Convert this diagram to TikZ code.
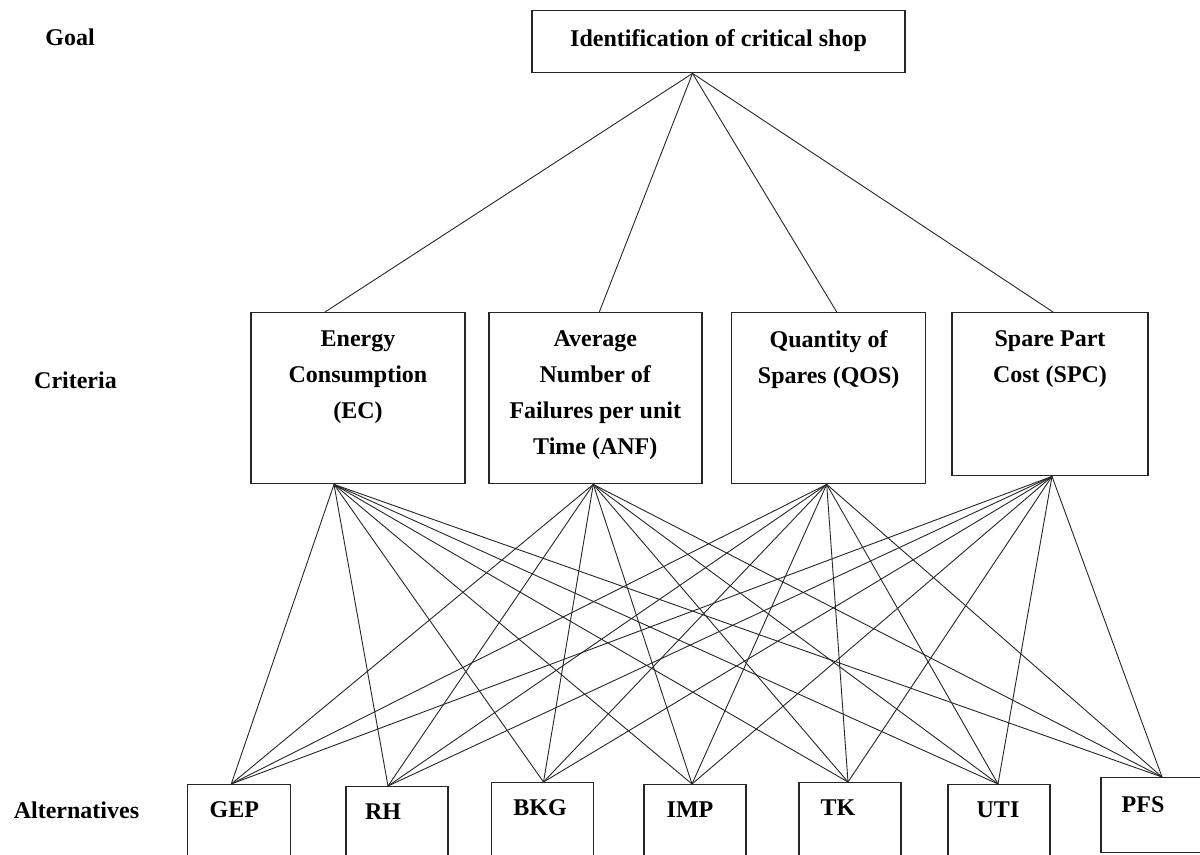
\documentclass[tikz,border=0pt]{standalone}
\usepackage{fontspec}
\setmainfont{Liberation Serif}
\usepackage{tikz}
\usetikzlibrary{positioning}

\begin{document}
\begin{tikzpicture}
  [
    x=0.5pt, y=-0.5pt,
    Txt/.style={font=\bfseries\fontsize{12}{18}\selectfont},
    Box/.style={rectangle, draw=black!85, line width=0.7pt, inner sep=0pt, anchor=north},
    Crit/.style={Box, minimum height=85.5pt},
    Alt/.style={Box, minimum width=51pt, minimum height=37.5pt},
    Inside/.style={Txt, anchor=north, align=center, inner sep=0pt, yshift=-9pt},
    AltIn/.style={Txt, anchor=north, inner sep=0pt, yshift=-8.5pt},
    Link/.style={draw=black!85, line width=0.45pt}
  ]
  \useasboundingbox (0,0) rectangle (1200,855);
  \clip (0,0) rectangle (1200,855);
  % Levels
  \node[Txt] (lgoal) at (70, 37) {Goal};
  \node[Txt] (lcrit) at (75.5, 380) {Criteria};
  \node[Txt] (lalt) at (76.5, 810) {Alternatives};
  % Goal
  \node[Box, minimum width=186.5pt, minimum height=31pt,
    label={[Inside, yshift=-0.5pt]north:Identification of critical shop}] (goal) at (718.5, 10) {};
  % Criteria
  \node[Crit, minimum width=107pt,
    label={[Inside]north:Energy\\Consumption\\(EC)}] (ec) at (358, 312) {};
  \node[Crit, minimum width=106.5pt,
    label={[Inside]north:Average\\Number of\\Failures per unit\\Time (ANF)}] (anf) at (595.3, 312) {};
  \node[Crit, minimum width=97pt,
    label={[Inside]north:Quantity of\\Spares (QOS)}] (qos) at (828.7, 312) {};
  \node[Crit, minimum width=98pt, minimum height=81.5pt,
    label={[Inside]north:Spare Part\\Cost (SPC)}] (spc) at (1050, 312) {};
  % Alternatives
  \node[Alt, minimum width=51.5pt, label={[AltIn, xshift=-2.5pt]north:GEP}] (gep) at (239.25, 784) {};
  \node[Alt, label={[AltIn, xshift=-7pt]north:RH}] (rh) at (397, 786) {};
  \node[Alt, label={[AltIn, xshift=-1.25pt]north:BKG}] (bkg) at (542.5, 782) {};
  \node[Alt, label={[AltIn, xshift=-2.5pt]north:IMP}] (imp) at (695, 784) {};
  \node[Alt, label={[AltIn, xshift=-6pt]north:TK}] (tk) at (850, 782) {};
  \node[Alt, label={[AltIn, xshift=-0.5pt]north:UTI}] (uti) at (999, 784) {};
  \node[Alt, label={[AltIn, xshift=-4.5pt, yshift=-1pt]north:PFS}] (pfs) at (1152, 777) {};
  % Attach points
  \coordinate (goal-out) at ([xshift=-13pt]goal.south);
  \coordinate (ec-in) at ([xshift=-16.5pt]ec.north);
  \coordinate (anf-in) at ([xshift=2pt]anf.north);
  \coordinate (qos-in) at ([xshift=4pt]qos.north);
  \coordinate (spc-in) at ([xshift=1.5pt]spc.north);
  \coordinate (ec-out) at ([xshift=-12pt]ec.south);
  \coordinate (anf-out) at ([xshift=-1pt]anf.south);
  \coordinate (qos-out) at ([xshift=-1pt]qos.south);
  \coordinate (spc-out) at ([xshift=1pt]spc.south);
  \coordinate (gep-in) at ([xshift=-4pt]gep.north);
  \coordinate (rh-in) at ([xshift=-4.5pt]rh.north);
  \coordinate (bkg-in) at ([xshift=0.5pt]bkg.north);
  \coordinate (imp-in) at ([xshift=-1.5pt]imp.north);
  \coordinate (tk-in) at ([xshift=-1pt]tk.north);
  \coordinate (uti-in) at ([xshift=-0.5pt]uti.north);
  \coordinate (pfs-in) at ([xshift=5pt]pfs.north);
  % Lines
  \path [Link] (goal-out) -- (ec-in);
  \path [Link] (goal-out) -- (anf-in);
  \path [Link] (goal-out) -- (qos-in);
  \path [Link] (goal-out) -- (spc-in);
  \path [Link] (ec-out) -- (gep-in);
  \path [Link] (ec-out) -- (rh-in);
  \path [Link] (ec-out) -- (bkg-in);
  \path [Link] (ec-out) -- (imp-in);
  \path [Link] (ec-out) -- (tk-in);
  \path [Link] (ec-out) -- (uti-in);
  \path [Link] (ec-out) -- (pfs-in);
  \path [Link] (anf-out) -- (gep-in);
  \path [Link] (anf-out) -- (rh-in);
  \path [Link] (anf-out) -- (bkg-in);
  \path [Link] (anf-out) -- (imp-in);
  \path [Link] (anf-out) -- (tk-in);
  \path [Link] (anf-out) -- (uti-in);
  \path [Link] (anf-out) -- (pfs-in);
  \path [Link] (qos-out) -- (gep-in);
  \path [Link] (qos-out) -- (rh-in);
  \path [Link] (qos-out) -- (bkg-in);
  \path [Link] (qos-out) -- (imp-in);
  \path [Link] (qos-out) -- (tk-in);
  \path [Link] (qos-out) -- (uti-in);
  \path [Link] (qos-out) -- (pfs-in);
  \path [Link] (spc-out) -- (gep-in);
  \path [Link] (spc-out) -- (rh-in);
  \path [Link] (spc-out) -- (bkg-in);
  \path [Link] (spc-out) -- (imp-in);
  \path [Link] (spc-out) -- (tk-in);
  \path [Link] (spc-out) -- (uti-in);
  \path [Link] (spc-out) -- (pfs-in);
\end{tikzpicture}
\end{document}
